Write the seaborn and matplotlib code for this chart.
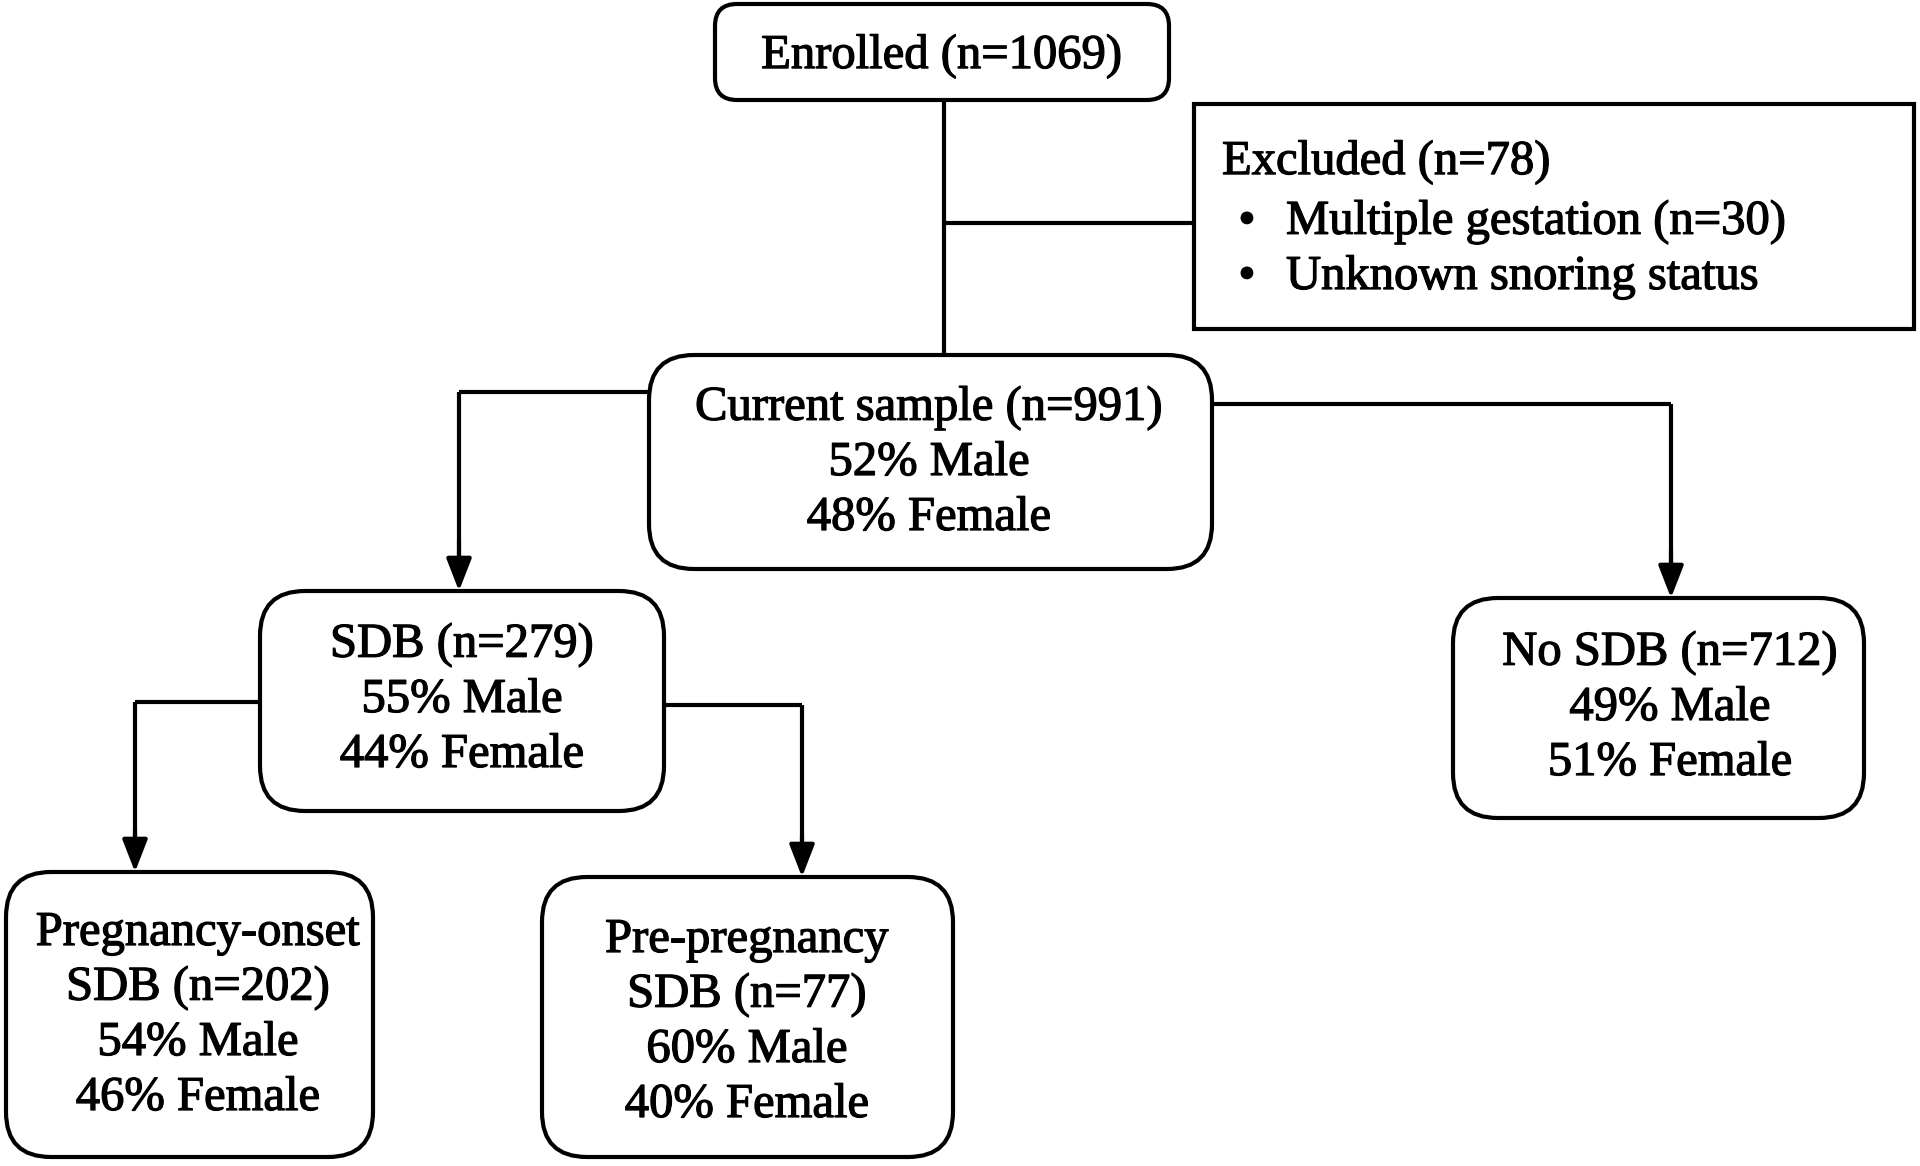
import matplotlib
matplotlib.use("Agg")
import matplotlib.pyplot as plt
from matplotlib.patches import FancyBboxPatch, Rectangle
import matplotlib.patheffects as pe
import seaborn as sns

# ---- content ----
enrolled_lines = ["Enrolled (n=1069)"]
excluded_title = "Excluded (n=78)"
excluded_items = ["Multiple gestation (n=30)", "Unknown snoring status"]
current_lines = ["Current sample (n=991)", "52% Male", "48% Female"]
sdb_lines = ["SDB (n=279)", "55% Male", "44% Female"]
nosdb_lines = ["No SDB (n=712)", "49% Male", "51% Female"]
onset_lines = ["Pregnancy-onset", "SDB (n=202)", "54% Male", "46% Female"]
pre_lines = ["Pre-pregnancy", "SDB (n=77)", "60% Male", "40% Female"]

sns.set_theme(style="white")
plt.rcParams['font.family'] = ['Liberation Serif', 'DejaVu Serif']

W, H = 1920, 1166
fig = plt.figure(figsize=(19.2, 11.66), dpi=100)
ax = fig.add_axes([0, 0, 1, 1])
ax.set_xlim(0, W)
ax.set_ylim(H, 0)
ax.axis("off")

LW = 3.0
FS = 35
LINE_H = 55
STROKE = [pe.withStroke(linewidth=0.9, foreground="black")]

def rbox(x0, y0, x1, y1, r=38):
    p = FancyBboxPatch((x0, y0), x1 - x0, y1 - y0,
                       boxstyle=f"round,pad=0,rounding_size={r}",
                       fc="white", ec="black", lw=LW, zorder=2)
    ax.add_patch(p)

def txt(x, y, s, ha="center"):
    ax.text(x, y, s, ha=ha, va="center", fontsize=FS, color="black",
            zorder=3, path_effects=STROKE)

def lines_text(cx, y_first, lines):
    for i, s in enumerate(lines):
        txt(cx, y_first + i * LINE_H, s)

def seg(xs, ys):
    ax.plot(xs, ys, color="black", lw=LW, solid_capstyle="butt",
            solid_joinstyle="miter", zorder=1)

def arrow_down(x, y0, y1):
    ax.annotate("", xy=(x, y1), xytext=(x, y0),
                arrowprops=dict(arrowstyle="-|>,head_length=0.9,head_width=0.35",
                                color="black", lw=LW, shrinkA=0, shrinkB=0,
                                mutation_scale=22),
                zorder=4)

# Enrolled
rbox(715, 4, 1169, 100, r=22)
lines_text(942, 56, enrolled_lines)

# connector enrolled -> current
seg([944, 944], [100, 355])
seg([944, 1194], [223, 223])

# Excluded box (square)
ax.add_patch(Rectangle((1194, 104), 1914 - 1194, 329 - 104, fc="white",
                       ec="black", lw=LW, zorder=2))
txt(1222, 162, excluded_title, ha="left")
for i, s in enumerate(excluded_items):
    y = 222 + i * 55
    txt(1247, y, "\u2022")
    txt(1286, y, s, ha="left")

# Current sample
rbox(649, 355, 1212, 569, r=45)
lines_text(929, 408, current_lines)

# left branch to SDB
seg([649, 459], [392, 392])
seg([459, 459], [392, 560])
arrow_down(459, 540, 591)
# right branch to No SDB
seg([1212, 1671], [404, 404])
seg([1671, 1671], [404, 570])
arrow_down(1671, 550, 598)

# SDB
rbox(260, 591, 664, 811, r=45)
lines_text(462, 645, sdb_lines)

# No SDB
rbox(1453, 598, 1864, 818, r=45)
lines_text(1670, 653, nosdb_lines)

# SDB -> children
seg([260, 135], [702, 702])
seg([135, 135], [702, 850])
arrow_down(135, 830, 872)
seg([664, 802], [705, 705])
seg([802, 802], [705, 855])
arrow_down(802, 835, 877)

# Pregnancy-onset
rbox(6, 872, 373, 1157, r=45)
lines_text(198, 933, onset_lines)

# Pre-pregnancy
rbox(542, 877, 953, 1157, r=45)
lines_text(747, 940, pre_lines)

fig.savefig("out.png", dpi=100, facecolor="white")
